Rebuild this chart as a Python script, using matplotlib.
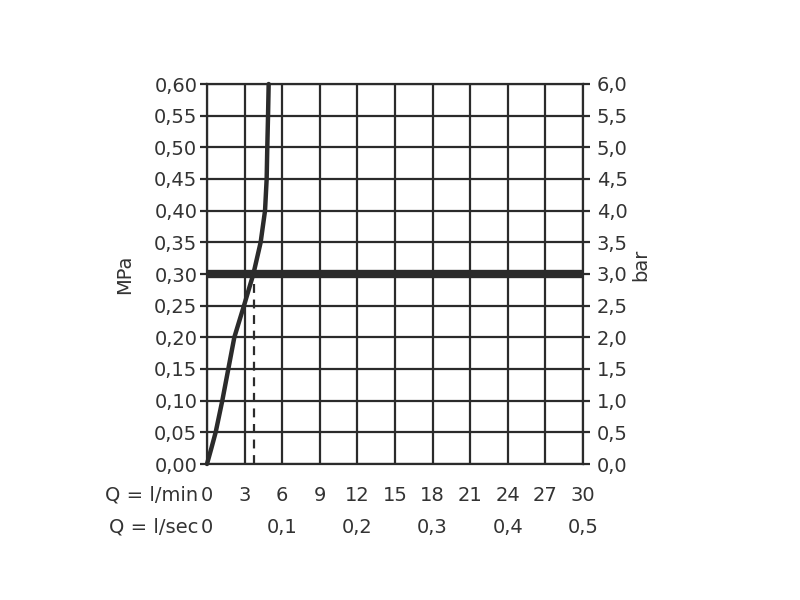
import matplotlib.pyplot as plt
import numpy as np

# flow curve (l/min vs MPa)
flow_lmin = [0.0, 0.35, 0.69, 1.22, 1.70, 2.18, 2.95, 3.70, 4.28, 4.63, 4.76, 4.81, 4.87, 4.92]
pressure_mpa = [0.0, 0.025, 0.05, 0.10, 0.15, 0.20, 0.25, 0.30, 0.35, 0.40, 0.45, 0.50, 0.55, 0.60]

lmin_ticks = [0, 3, 6, 9, 12, 15, 18, 21, 24, 27, 30]
lsec_ticks = [0, 0.1, 0.2, 0.3, 0.4, 0.5]
mpa_ticks = [0.0, 0.05, 0.10, 0.15, 0.20, 0.25, 0.30, 0.35, 0.40, 0.45, 0.50, 0.55, 0.60]
bar_ticks = [0.0, 0.5, 1.0, 1.5, 2.0, 2.5, 3.0, 3.5, 4.0, 4.5, 5.0, 5.5, 6.0]

ref_pressure = 0.30   # thick reference line
ref_flow = 3.78       # dashed drop line

INK = "#2b2b2b"
TXT = "#333333"
FS = 14

plt.rcParams["font.family"] = ["DejaVu Sans"]

fig = plt.figure(figsize=(8, 6), dpi=100)
ax = fig.add_axes([207 / 800, 1 - 464 / 600, 376 / 800, 380 / 600])

ax.set_xlim(0, 30)
ax.set_ylim(0, 0.60)

ax.set_xticks(lmin_ticks)
ax.set_yticks(mpa_ticks)
ax.grid(True, color=INK, linewidth=1.6)
ax.set_axisbelow(True)
for s in ax.spines.values():
    s.set_color(INK)
    s.set_linewidth(1.6)

ax.set_yticklabels([f"{v:.2f}".replace(".", ",") for v in mpa_ticks], fontsize=FS, color=TXT)
ax.set_xticklabels([str(v) for v in lmin_ticks], fontsize=FS, color=TXT)
ax.tick_params(axis="y", direction="out", length=5, width=1.6, color=INK, pad=2)
ax.tick_params(axis="x", direction="out", length=0, pad=16)

# l/sec row, placed on the l/min scale (1 l/sec = 60 l/min)
for v in lsec_ticks:
    ax.text(v * 60, -0.1, "0" if v == 0 else f"{v:.1f}".replace(".", ","),
            ha="center", va="center", fontsize=FS, color=TXT,
            transform=ax.transData, clip_on=False)

ax2 = ax.twinx()
ax2.set_ylim(0, 6.0)
ax2.set_yticks(bar_ticks)
ax2.set_yticklabels([f"{v:.1f}".replace(".", ",") for v in bar_ticks], fontsize=FS, color=TXT)
ax2.tick_params(axis="y", direction="out", length=5, width=1.6, color=INK, pad=5)
for s in ax2.spines.values():
    s.set_visible(False)

ax.axhline(ref_pressure, color=INK, linewidth=6, zorder=3)
ax.plot([ref_flow, ref_flow], [0, ref_pressure], color=INK, linewidth=1.6,
        linestyle=(0, (4, 3)), zorder=3)
ax.plot(flow_lmin, pressure_mpa, color=INK, linewidth=3.2,
        solid_joinstyle="round", solid_capstyle="round", zorder=4, clip_on=False)

fig.text(125 / 800, 1 - 274 / 600, "MPa", rotation=90, ha="center", va="center",
         fontsize=FS, color=TXT)
fig.text(641 / 800, 1 - 265 / 600, "bar", rotation=90, ha="center", va="center",
         fontsize=FS, color=TXT)
fig.text(198 / 800, 1 - 495 / 600, "Q = l/min", ha="right", va="center",
         fontsize=FS, color=TXT)
fig.text(198 / 800, 1 - 527 / 600, "Q = l/sec", ha="right", va="center",
         fontsize=FS, color=TXT)

fig.savefig("out.png", dpi=100)
